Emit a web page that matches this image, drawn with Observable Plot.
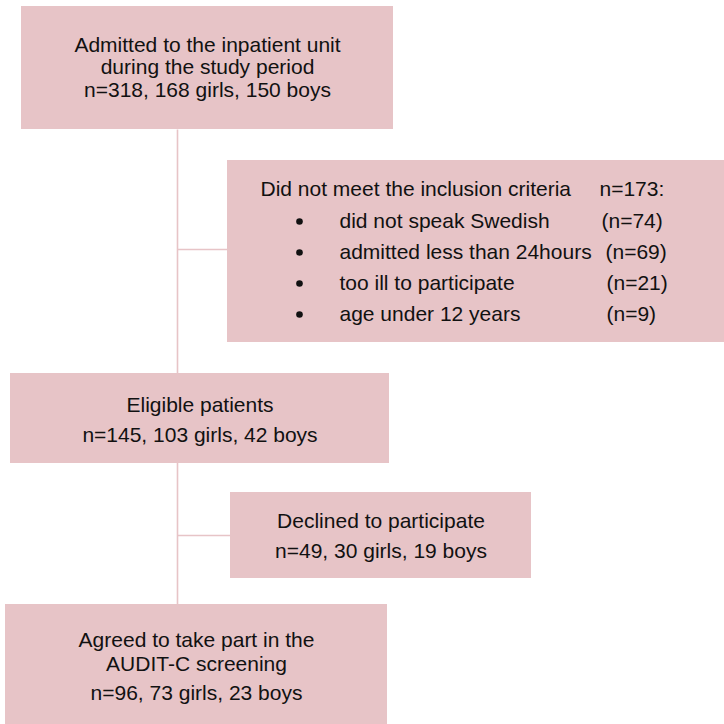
<!DOCTYPE html>
<html>
<head>
<meta charset="utf-8">
<script src="https://cdn.jsdelivr.net/npm/d3@7"></script>
<script src="https://cdn.jsdelivr.net/npm/@observablehq/plot@0.6"></script>
<style>
  html, body { margin: 0; padding: 0; background: #fff; }
  #chart { width: 724px; height: 724px; }
</style>
</head>
<body>
<div id="chart"></div>
<script>
// ---- data ----
const stageLabels = [
  ["Admitted to the inpatient unit", "during the study period"],
  ["Eligible patients"],
  ["Agreed to take part in the", "AUDIT-C screening"]
];
const stageTotals = [318, 145, 96];
const stageGirls = [168, 103, 73];
const stageBoys = [150, 42, 23];

const exclusionLabels = ["Did not meet the inclusion criteria", "Declined to participate"];
const exclusionTotals = [173, 49];
const exclusionGirls = [null, 30];
const exclusionBoys = [null, 19];

const reasons = ["did not speak Swedish", "admitted less than 24hours", "too ill to participate", "age under 12 years"];
const reasonCounts = [74, 69, 21, 9];

// ---- layout (pixel coordinates of the flow diagram) ----
const fill = "#e7c4c7";
const ink = "#111";
const stageBoxes = [
  {x1: 21, x2: 393, y1: 6, y2: 129, cx: 207, baselines: [51, 73, 96]},
  {x1: 10, x2: 389, y1: 373, y2: 463, cx: 199.5, baselines: [411, 441]},
  {x1: 5, x2: 387, y1: 604, y2: 724, cx: 196, baselines: [646, 670, 699]}
];
const exclusionBoxes = [
  {x1: 227, x2: 724, y1: 160, y2: 342, join: 249},
  {x1: 230, x2: 531, y1: 492, y2: 578, cx: 380.5, baselines: [527, 557], join: 535}
];
const spineX = 177;
const reasonBaselines = [227, 258, 289, 320];
const bulletX = 299, reasonX = 339;
const reasonCountX = [601, 605, 606, 606];

// ---- build tables ----
const boxes = [...stageBoxes, ...exclusionBoxes];

const links = [
  {x1: spineX, y1: stageBoxes[0].y2, x2: spineX, y2: stageBoxes[2].y1},
  ...exclusionBoxes.map(b => ({x1: spineX, y1: b.join, x2: b.x1, y2: b.join}))
];

const centered = [];
stageBoxes.forEach((b, i) => {
  const lines = [...stageLabels[i], `n=${stageTotals[i]}, ${stageGirls[i]} girls, ${stageBoys[i]} boys`];
  lines.forEach((t, j) => centered.push({x: b.cx, y: b.baselines[j], text: t}));
});
{
  const b = exclusionBoxes[1];
  const lines = [exclusionLabels[1], `n=${exclusionTotals[1]}, ${exclusionGirls[1]} girls, ${exclusionBoys[1]} boys`];
  lines.forEach((t, j) => centered.push({x: b.cx, y: b.baselines[j], text: t}));
}

const leftText = [
  {x: 260, y: 195, text: exclusionLabels[0]},
  {x: 599, y: 195, text: `n=${exclusionTotals[0]}:`},
  ...reasons.map((r, i) => ({x: reasonX, y: reasonBaselines[i], text: r})),
  ...reasonCounts.map((c, i) => ({x: reasonCountX[i], y: reasonBaselines[i], text: `(n=${c})`}))
];
const bullets = reasons.map((r, i) => ({x: bulletX, y: reasonBaselines[i] - 6}));

const chart = Plot.plot({
  width: 724,
  height: 724,
  margin: 0,
  style: {fontFamily: "'Liberation Sans', Arial, sans-serif", background: "#fff", overflow: "visible"},
  x: {domain: [0, 724], range: [0, 724], axis: null},
  y: {domain: [0, 724], range: [0, 724], axis: null},
  marks: [
    Plot.link(links, {x1: "x1", y1: "y1", x2: "x2", y2: "y2", stroke: fill, strokeWidth: 1.6}),
    Plot.rect(boxes, {x1: "x1", x2: "x2", y1: "y1", y2: "y2", fill: fill}),
    Plot.text(centered, {x: "x", y: "y", text: "text", textAnchor: "middle", lineAnchor: "bottom", fontSize: 21, fill: ink}),
    Plot.text(leftText, {x: "x", y: "y", text: "text", textAnchor: "start", lineAnchor: "bottom", fontSize: 21, fill: ink}),
    Plot.dot(bullets, {x: "x", y: "y", r: 3.3, fill: ink, stroke: null})
  ]
});
document.getElementById("chart").appendChild(chart);
</script>
</body>
</html>
